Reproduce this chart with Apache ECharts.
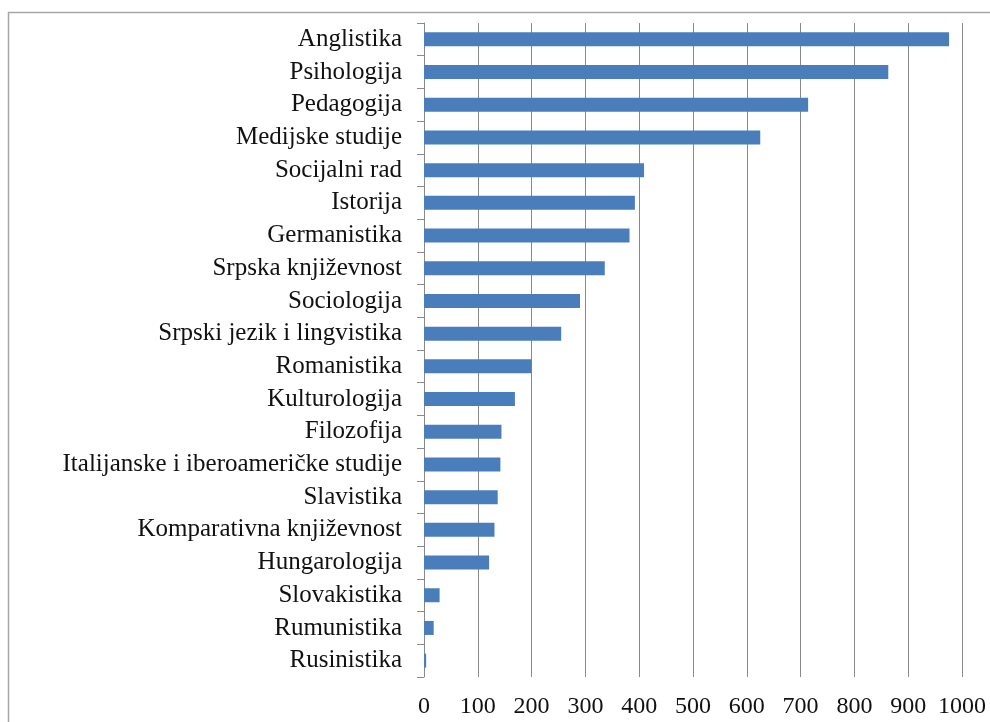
<!DOCTYPE html>
<html>
<head>
<meta charset="utf-8">
<style>
  html, body { margin: 0; padding: 0; background: #fff; }
  #chart { width: 990px; height: 722px; }
</style>
<script src="https://cdn.jsdelivr.net/npm/echarts@6/dist/echarts.min.js"></script>
</head>
<body>
<div id="chart"></div>
<script>
// values
var categories = [
  "Anglistika", "Psihologija", "Pedagogija", "Medijske studije", "Socijalni rad",
  "Istorija", "Germanistika", "Srpska književnost", "Sociologija",
  "Srpski jezik i lingvistika", "Romanistika", "Kulturologija", "Filozofija",
  "Italijanske i iberoameričke studije", "Slavistika", "Komparativna književnost",
  "Hungarologija", "Slovakistika", "Rumunistika", "Rusinistika"
];
var values = [976, 863, 714, 625, 409, 392, 382, 336, 290, 255, 200, 169, 144, 142, 137, 131, 121, 29, 18, 4];
var xTicks = { min: 0, max: 1000, interval: 100 };

var font = "'Liberation Serif', 'Times New Roman', serif";
var lineColor = "#8a8a8a";

var chart = echarts.init(document.getElementById("chart"));

var option = {
  animation: false,
  backgroundColor: "#fff",
  textStyle: { fontFamily: font },
  graphic: [
    {
      // outer chart frame
      type: "rect",
      shape: { x: 8.5, y: 12.5, width: 1100, height: 900 },
      style: { fill: "none", stroke: "#a6a6a6", lineWidth: 1.5 },
      silent: true,
    },
  ],
  grid: {
    left: 424,
    right: 28,
    top: 23,
    bottom: 45,
  },
  xAxis: {
    type: "value",
    min: xTicks.min,
    max: xTicks.max,
    interval: xTicks.interval,
    axisLine: { show: false },
    axisTick: { show: false },
    axisLabel: {
      fontFamily: font,
      fontSize: 24,
      color: "#111",
      margin: 18,
      formatter: function (v) {
        return String(v);
      },
    },
    splitLine: {
      show: true,
      lineStyle: { color: lineColor, width: 1 },
    },
  },
  yAxis: {
    type: "category",
    data: categories,
    inverse: true,
    axisLine: {
      show: true,
      lineStyle: { color: lineColor, width: 1 },
    },
    axisTick: {
      show: true,
      length: 7,
      lineStyle: { color: lineColor },
    },
    axisLabel: {
      fontFamily: font,
      fontSize: 25,
      color: "#111",
      margin: 22,
    },
  },
  series: [
    {
      type: "bar",
      data: values,
      barWidth: 14,
      itemStyle: { color: "#4a7ebb" },
      silent: true,
    },
  ],
};

chart.setOption(option);
window.onresize = function () {
  chart.resize();
};
</script>
</body>
</html>
